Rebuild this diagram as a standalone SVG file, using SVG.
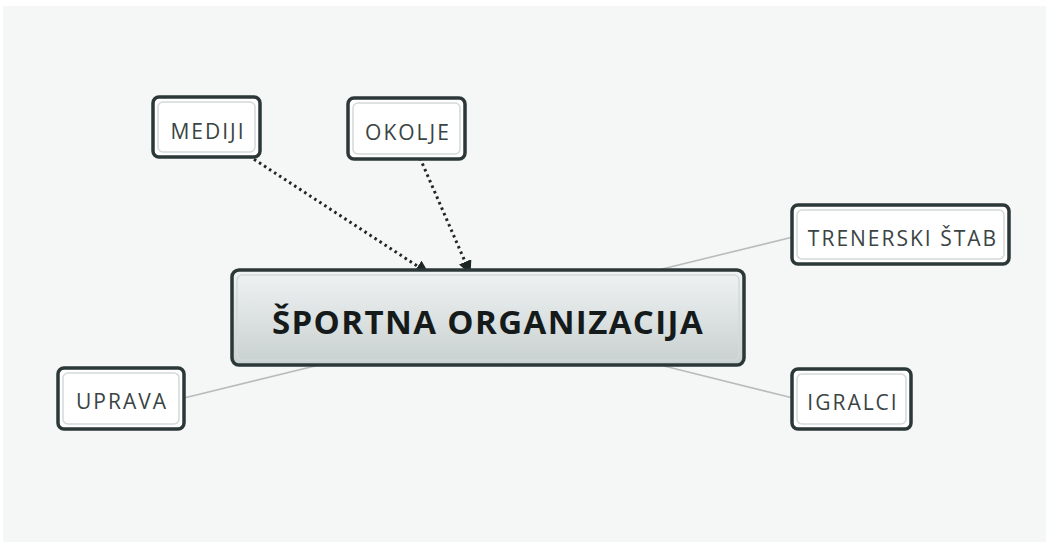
<svg xmlns="http://www.w3.org/2000/svg" width="1046" height="542" viewBox="0 0 1046 542">
<style>
.box{fill:#ffffff;stroke:#2c3838;stroke-width:3.5}
.inner{fill:none;stroke:#d4d9d9;stroke-width:1.5}
.lbl{font-family:"Open Sans","Noto Sans",sans-serif;font-size:21px;letter-spacing:2px;fill:#3a4444;text-anchor:middle}
.main{font-family:"Open Sans","Noto Sans",sans-serif;font-size:33px;letter-spacing:1.4px;font-weight:bold;fill:#151a1a;text-anchor:middle}
.dot{stroke:#1e2626;stroke-width:3;stroke-dasharray:2.5 3.5;fill:none}
.ln{stroke:#b8bcbc;stroke-width:1.6;fill:none}
</style>
<defs>
<linearGradient id="g" x1="0" y1="0" x2="0" y2="1">
<stop offset="0" stop-color="#f0f3f3"/>
<stop offset="1" stop-color="#c9d0d0"/>
</linearGradient>
<marker id="ah" viewBox="0 0 10 10" refX="9" refY="5" markerWidth="4.5" markerHeight="4.5" orient="auto" markerUnits="strokeWidth">
<path d="M0,0 L10,5 L0,10 z" fill="#1e2626"/>
</marker>
</defs>
<rect x="0" y="0" width="1046" height="542" fill="#ffffff"/>
<rect x="3" y="6" width="1043" height="536" fill="#f4f7f6"/>
<g id="connectors">
<path class="dot" d="M249,156 L428,273" marker-end="url(#ah)"/>
<path class="dot" d="M420,158 L470,273" marker-end="url(#ah)"/>
<path class="ln" d="M654,271 L793,237"/>
<path class="ln" d="M184,398 L323,364"/>
<path class="ln" d="M664,366 L793,398"/>
</g>
<g id="central">
<rect x="232" y="270" width="512" height="95" rx="7" fill="url(#g)" stroke="#2c3838" stroke-width="3.5"/>
<rect x="237" y="275" width="502" height="85" rx="5" class="inner" stroke="#ffffff"/>
<text x="488" y="334" class="main">ŠPORTNA ORGANIZACIJA</text>
</g>
<g id="mediji">
<rect x="153" y="97" width="107" height="60" rx="6" class="box"/>
<rect x="158" y="102" width="97" height="50" rx="5" class="inner"/>
<text x="208" y="139" class="lbl">MEDIJI</text>
</g>
<g id="okolje">
<rect x="348" y="98" width="117" height="61" rx="6" class="box"/>
<rect x="353" y="103" width="107" height="51" rx="5" class="inner"/>
<text x="408" y="140" class="lbl">OKOLJE</text>
</g>
<g id="trenerski">
<rect x="792" y="205" width="217" height="59" rx="6" class="box"/>
<rect x="797" y="210" width="207" height="49" rx="5" class="inner"/>
<text x="903" y="246" class="lbl">TRENERSKI ŠTAB</text>
</g>
<g id="uprava">
<rect x="58" y="368" width="126" height="61" rx="6" class="box"/>
<rect x="63" y="373" width="116" height="51" rx="5" class="inner"/>
<text x="122" y="409" class="lbl">UPRAVA</text>
</g>
<g id="igralci">
<rect x="792" y="369" width="119" height="60" rx="6" class="box"/>
<rect x="797" y="374" width="109" height="50" rx="5" class="inner"/>
<text x="853" y="410" class="lbl">IGRALCI</text>
</g>
</svg>
